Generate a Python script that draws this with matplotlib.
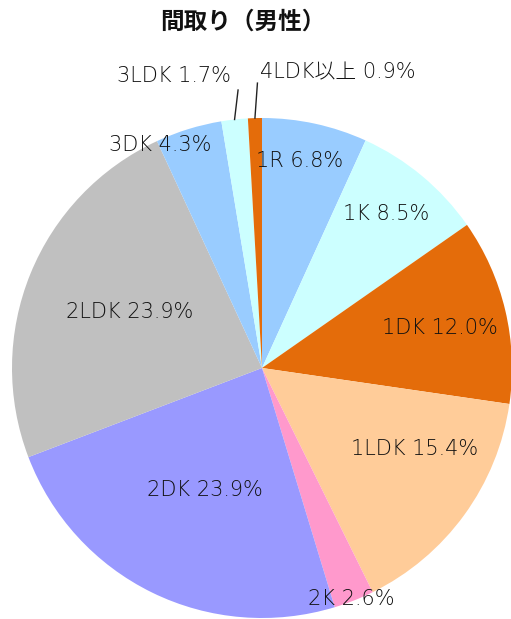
import numpy as np
import matplotlib
matplotlib.use("Agg")
import matplotlib.pyplot as plt

plt.rcParams["font.family"] = ["DejaVu Sans", "Noto Sans CJK JP"]

# ── data ──────────────────────────────────────────────────────────────────────
labels = ["1R", "1K", "1DK", "1LDK", "2K", "2DK", "2LDK", "3DK", "3LDK", "4LDK以上"]
shares = [6.8, 8.5, 12.0, 15.4, 2.6, 23.9, 23.9, 4.3, 1.7, 0.9]
colors = ["#99CCFF", "#CCFFFF", "#E46C0A", "#FFCC99", "#FF99CC",
          "#9999FF", "#C0C0C0", "#99CCFF", "#CCFFFF", "#E46C0A"]

# label placement: radius (fraction of pie radius) and angle tweak (deg)
label_r   = [0.84, 0.79, 0.73, 0.69, 0.99, 0.54, 0.575, 0.98, None, None]
label_da  = [2.0, 1.0, -0.5, 8.0, -0.5, 1.0, -1.0, 7.5, 0, 0]
# outside labels: leader-line vector (from rim) and text offset from its end
out_ha    = [None] * 8 + ["right", "left"]
out_line  = [None] * 8 + [(0.014, 0.118), (0.010, 0.14)]
out_off   = [None] * 8 + [(-0.028, 0.056), (0.012, 0.044)]

W, H = 511, 619
cx, cy, R = 262, 368, 250

fig = plt.figure(figsize=(W / 100, H / 100), dpi=100)
ax = fig.add_axes([(cx - R) / W, (H - cy - R) / H, 2 * R / W, 2 * R / H])

wedges, _ = ax.pie(shares, colors=colors, startangle=90, counterclock=False,
                   radius=1.0, wedgeprops={"linewidth": 0})
ax.set_xlim(-1, 1)
ax.set_ylim(-1, 1)
ax.set_aspect("equal")
ax.axis("off")

tfont = dict(fontsize=15, color="#111111", fontweight="light", clip_on=False)

tot = sum(shares)
cum = 0.0
for i, (lab, s) in enumerate(zip(labels, shares)):
    mid = 90 - 360 * (cum + s / 2) / tot
    cum += s
    txt = f"{lab} {s:.1f}%"
    if out_ha[i]:
        a0 = np.deg2rad(mid)
        x0, y0 = np.cos(a0), np.sin(a0)
        x1, y1 = x0 + out_line[i][0], y0 + out_line[i][1]
        ax.plot([x0, x1], [y0, y1], color="#222222", lw=1.0, clip_on=False)
        dx, dy = out_off[i]
        ax.text(x1 + dx, y1 + dy, txt, ha=out_ha[i], va="center", **tfont)
    else:
        a = np.deg2rad(mid + label_da[i])
        r = label_r[i]
        ax.text(np.cos(a) * r, np.sin(a) * r, txt, ha="center", va="center", **tfont)

fig.text(243 / W, 1 - 22 / H, "間取り（男性）", ha="center", va="center",
         fontsize=17, fontweight="bold", color="#111111",
         family=["Noto Sans CJK JP", "DejaVu Sans"])

fig.savefig("out.png", dpi=100)
